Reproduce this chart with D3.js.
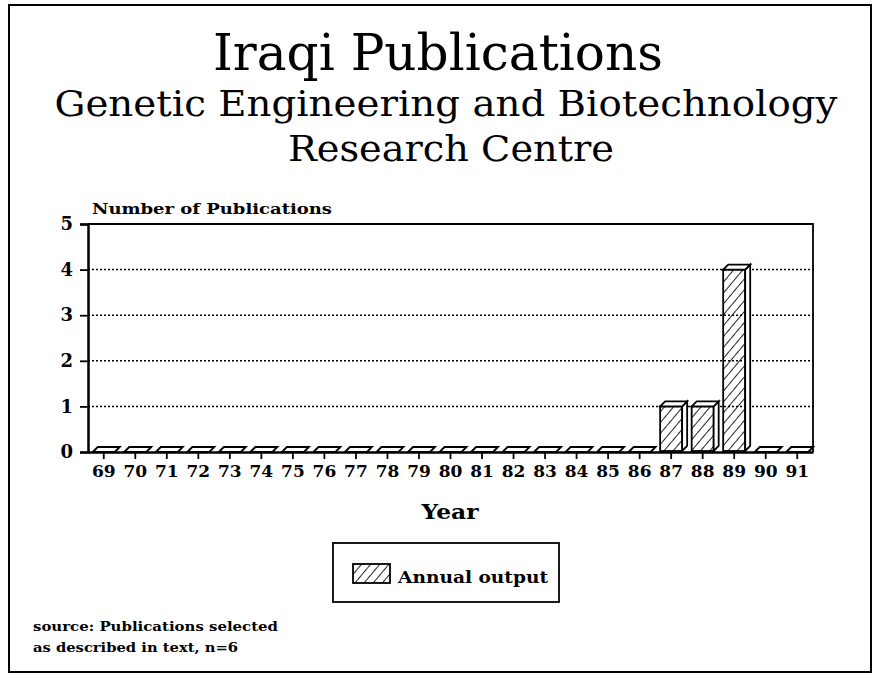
<!DOCTYPE html>
<html>
<head>
<meta charset="utf-8">
<script src="https://cdn.jsdelivr.net/npm/d3@7"></script>
<style>
  body { margin: 0; background: #fff; }
  svg { display: block; }
  text { fill: #000; }
  .bold { font-family: "DejaVu Serif", serif; font-weight: bold; }
  .title { font-family: "DejaVu Serif", serif; font-weight: normal; }
</style>
</head>
<body>
<svg id="chart"></svg>
<script>
const years = ['69','70','71','72','73','74','75','76','77','78','79','80',
  '81','82','83','84','85','86','87','88','89','90','91'];
const output = [0,0,0,0,0,0,0,0,0,0,0,0,0,0,0,0,0,0,1,1,4,0,0];
const yTicks = [0,1,2,3,4,5];
const titleLines = ['Iraqi Publications', 'Genetic Engineering and Biotechnology', 'Research Centre'];
const sourceLines = ['source: Publications selected', 'as described in text, n=6'];

const width = 878;
const height = 678;
const plot = { left: 88, right: 813, top: 224, bottom: 452 };
const depth = 5;

const svg = d3.select('#chart')
  .attr('width', width)
  .attr('height', height);

// hatch for the bars
const defs = svg.append('defs');
defs.append('pattern')
  .attr('id', 'hatch')
  .attr('patternUnits', 'userSpaceOnUse')
  .attr('width', 7)
  .attr('height', 7)
  .attr('patternTransform', 'rotate(40)')
  .append('line')
  .attr('x1', 0).attr('y1', 0)
  .attr('x2', 0).attr('y2', 7)
  .attr('stroke', '#000')
  .attr('stroke-width', 1.7);

// outer frame
svg.append('rect')
  .attr('x', 9).attr('y', 5)
  .attr('width', 862).attr('height', 667)
  .attr('fill', 'none')
  .attr('stroke', '#000')
  .attr('stroke-width', 2);

// titles (widths stretched to match the original typeface)
const titleSpec = [
  { x: 438, y: 70, size: 50, len: 450 },
  { x: 446, y: 116, size: 35, len: 783 },
  { x: 451, y: 161, size: 35, len: 326 }
];
svg.selectAll('.title')
  .data(titleLines)
  .enter()
  .append('text')
  .attr('class', 'title')
  .attr('x', (d, i) => titleSpec[i].x)
  .attr('y', (d, i) => titleSpec[i].y)
  .attr('text-anchor', 'middle')
  .attr('textLength', (d, i) => titleSpec[i].len)
  .attr('lengthAdjust', 'spacingAndGlyphs')
  .style('font-size', (d, i) => titleSpec[i].size + 'px')
  .text((d) => d);

const xScale = d3.scaleBand()
  .domain(years)
  .range([plot.left, plot.right]);

const yScale = d3.scaleLinear()
  .domain([0, 5])
  .range([plot.bottom, plot.top]);

// dotted grid
svg.selectAll('.grid')
  .data(yTicks.filter((d) => d > 0 && d < 5))
  .enter()
  .append('line')
  .attr('class', 'grid')
  .attr('x1', plot.left).attr('x2', plot.right)
  .attr('y1', (d) => yScale(d)).attr('y2', (d) => yScale(d))
  .attr('stroke', '#000')
  .attr('stroke-width', 1.5)
  .attr('stroke-dasharray', '2,2');

// plot box
svg.append('path')
  .attr('d', `M${plot.left},${plot.top}H${plot.right}V${plot.bottom}`)
  .attr('fill', 'none')
  .attr('stroke', '#000')
  .attr('stroke-width', 1.8);

// y axis
const yAxis = d3.axisLeft(yScale)
  .tickValues(yTicks)
  .tickFormat(d3.format('d'))
  .tickSize(8)
  .tickPadding(7);

const yG = svg.append('g')
  .attr('transform', `translate(${plot.left}, 0)`)
  .call(yAxis);
yG.select('.domain').attr('stroke-width', 2.5);
yG.selectAll('.tick line').attr('stroke-width', 1.8);
yG.selectAll('text')
  .attr('class', 'bold')
  .style('font-size', '18px');

// x axis
const xAxis = d3.axisBottom(xScale)
  .tickSize(7)
  .tickPadding(6)
  .tickSizeOuter(0);

const xG = svg.append('g')
  .attr('transform', `translate(0, ${plot.bottom})`)
  .call(xAxis);
xG.select('.domain').attr('stroke-width', 2.5);
xG.selectAll('.tick line').attr('stroke-width', 1.8);
xG.selectAll('text')
  .attr('class', 'bold')
  .style('font-size', '17px');

// bars with depth
const barW = 22;
const bars = svg.selectAll('.bar')
  .data(years.map((y, i) => ({ year: y, value: output[i] })))
  .enter()
  .append('g')
  .attr('class', 'bar');

bars.each(function (d) {
  const g = d3.select(this);
  const x0 = xScale(d.year) + xScale.bandwidth() / 2 - barW / 2;
  const x1 = x0 + barW;
  const yTop = yScale(d.value);
  const yBase = yScale(0) - 1;
  if (d.value > 0) {
    g.append('rect')
      .attr('x', x0).attr('y', yTop)
      .attr('width', barW).attr('height', yBase - yTop)
      .attr('fill', 'url(#hatch)')
      .attr('stroke', '#000')
      .attr('stroke-width', 1.8);
    g.append('path')
      .attr('d', `M${x1},${yTop}L${x1 + depth},${yTop - depth}L${x1 + depth},${yBase - depth}L${x1},${yBase}Z`)
      .attr('fill', '#fff')
      .attr('stroke', '#000')
      .attr('stroke-width', 1.8);
  }
  g.append('path')
    .attr('d', `M${x0},${yTop}L${x0 + depth},${yTop - depth}L${x1 + depth},${yTop - depth}L${x1},${yTop}Z`)
    .attr('fill', '#fff')
    .attr('stroke', '#000')
    .attr('stroke-width', 1.8);
});

// axis titles
svg.append('text')
  .attr('class', 'bold')
  .attr('x', 92).attr('y', 214)
  .attr('textLength', 240)
  .attr('lengthAdjust', 'spacingAndGlyphs')
  .style('font-size', '15px')
  .text('Number of Publications');

svg.append('text')
  .attr('class', 'bold')
  .attr('x', 450).attr('y', 519)
  .attr('text-anchor', 'middle')
  .attr('textLength', 57)
  .attr('lengthAdjust', 'spacingAndGlyphs')
  .style('font-size', '21px')
  .text('Year');

// legend
const legend = svg.append('g')
  .attr('transform', 'translate(333, 543)');
legend.append('rect')
  .attr('width', 226).attr('height', 59)
  .attr('fill', '#fff')
  .attr('stroke', '#000')
  .attr('stroke-width', 1.8);
legend.append('rect')
  .attr('x', 20).attr('y', 21)
  .attr('width', 37).attr('height', 19)
  .attr('fill', 'url(#hatch)')
  .attr('stroke', '#000')
  .attr('stroke-width', 1.8);
legend.append('text')
  .attr('class', 'bold')
  .attr('x', 65).attr('y', 40)
  .attr('textLength', 150)
  .attr('lengthAdjust', 'spacingAndGlyphs')
  .style('font-size', '17px')
  .text('Annual output');

// source note
const sourceLen = [245, 205];
svg.selectAll('.source')
  .data(sourceLines)
  .enter()
  .append('text')
  .attr('class', 'bold source')
  .attr('x', 33)
  .attr('y', (d, i) => 631 + i * 21)
  .attr('textLength', (d, i) => sourceLen[i])
  .attr('lengthAdjust', 'spacingAndGlyphs')
  .style('font-size', '13px')
  .text((d) => d);
</script>
</body>
</html>
